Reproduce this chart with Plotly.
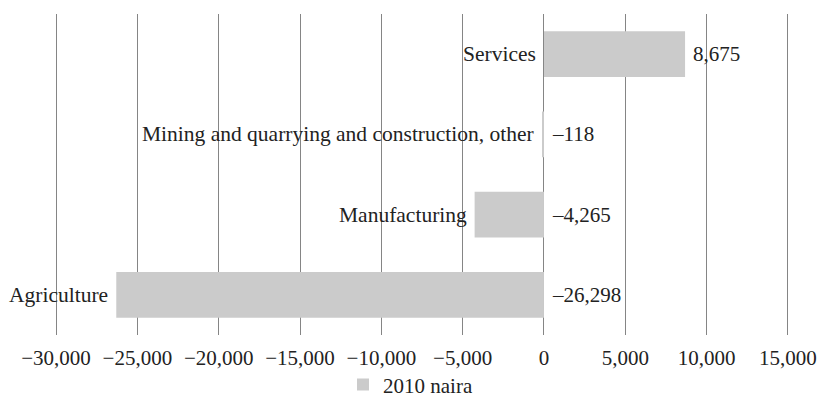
import plotly.graph_objects as go

categories = ["Agriculture", "Manufacturing", "Mining and quarrying and construction, other", "Services"]
values = [-26298, -4265, -118, 8675]
series_name = "2010 naira"
x_ticks = [-30000, -25000, -20000, -15000, -10000, -5000, 0, 5000, 10000, 15000]

FONT = "Liberation Serif"
TXT = "#222222"
GRID = "#858585"

fig = go.Figure()
fig.add_trace(go.Bar(
    y=categories, x=values, orientation="h", name=series_name,
    marker=dict(color="#cbcbcb", line=dict(width=0)),
    width=0.57, showlegend=True,
))

def fmt(v):
    s = f"{abs(v):,}"
    return ("\u2013" + s) if v < 0 else s

for c, v in zip(categories, values):
    fig.add_annotation(x=min(0, v), y=c, text=c, showarrow=False,
                       xanchor="right", yanchor="middle", xshift=-6,
                       font=dict(family=FONT, size=21.5, color=TXT))
    fig.add_annotation(x=max(0, v), y=c, text=fmt(v), showarrow=False,
                       xanchor="left", yanchor="middle", xshift=6,
                       font=dict(family=FONT, size=21, color=TXT))

fig.update_layout(
    width=821, height=406,
    margin=dict(l=52, r=29, t=14, b=71, autoexpand=False),
    paper_bgcolor="white", plot_bgcolor="white",
    font=dict(family=FONT, size=21, color=TXT),
    bargap=0.43,
    legend=dict(orientation="h", x=0.5, xref="container", xanchor="center",
                y=0.052, yref="container", yanchor="middle",
                font=dict(family=FONT, size=21, color=TXT),
                itemwidth=30, bgcolor="rgba(0,0,0,0)"),
    xaxis=dict(range=[-30250, 15250], tickvals=x_ticks, tickformat=",",
               automargin=False,
               showgrid=True, gridcolor=GRID, gridwidth=1,
               zeroline=True, zerolinecolor=GRID, zerolinewidth=1,
               showline=False, ticks="", ticklabelstandoff=8,
               tickfont=dict(family=FONT, size=21, color=TXT)),
    yaxis=dict(showticklabels=False, showgrid=False, zeroline=False,
               showline=False, ticks="", categoryorder="array",
               categoryarray=categories, automargin=False),
)

fig.write_html("out.html", config={"displayModeBar": False},
               post_script="document.body.style.margin='0';")
